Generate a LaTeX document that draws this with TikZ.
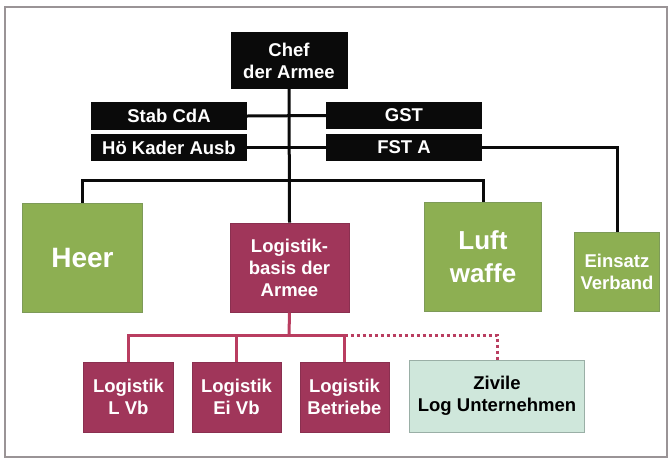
\documentclass[tikz,border=0pt]{standalone}
\usepackage{fontspec}
\setmainfont{Liberation Sans}
\definecolor{blk}{HTML}{0A0A0A}
\definecolor{grnf}{HTML}{8DAF52}
\definecolor{grnd}{HTML}{7D9A58}
\definecolor{marf}{HTML}{A0365A}
\definecolor{mard}{HTML}{8A3050}
\definecolor{redl}{HTML}{B93D60}
\definecolor{civf}{HTML}{CFE7DB}
\definecolor{civd}{HTML}{9AAFA6}
\definecolor{frm}{HTML}{9A9496}
\begin{document}
\begin{tikzpicture}[x=1pt,y=-1pt,
  box/.style={inner sep=0pt, align=center, font=\bfseries\fontsize{18.5}{22}\selectfont},
  blkbox/.style={box, fill=blk, text=white},
  grnbox/.style={box, fill=grnf, draw=grnd, line width=1pt, text=white},
  marbox/.style={box, fill=marf, draw=mard, line width=1pt, text=white},
  civbox/.style={box, fill=civf, draw=civd, line width=1pt, text=black},
  bl/.style={draw=blk, line width=3pt},
  rd/.style={draw=redl, line width=3pt},
  rddot/.style={draw=redl, line width=3pt, dash pattern=on 3pt off 3pt}]
\useasboundingbox (0,0) rectangle (671,461);
\draw[frm, line width=1.5pt] (5,7) rectangle (667,457);
\coordinate (hb) at (289,180);
\coordinate (rb) at (289,335);
% nodes
\node[blkbox, minimum width=117pt, minimum height=57pt] (chef) at (289,60.5) {Chef\\der Armee};
\node[blkbox, minimum width=156pt, minimum height=28pt] (stab) at (169,116) {Stab CdA};
\node[blkbox, minimum width=156pt, minimum height=27pt] (gst) at (404,115.5) {GST};
\node[blkbox, minimum width=156pt, minimum height=27pt] (hoe) at (169,147.5) {Hö Kader Ausb};
\node[blkbox, minimum width=156pt, minimum height=27pt] (fst) at (404,147.5) {FST A};
\node[grnbox, minimum width=120pt, minimum height=109pt, font=\bfseries\fontsize{28}{33}\selectfont] (heer) at (82.5,257.5) {Heer};
\node[marbox, minimum width=119pt, minimum height=89pt] (log) at (289.5,267.5) {Logistik-\\basis der\\Armee};
\node[grnbox, minimum width=116.5pt, minimum height=109pt, font=\bfseries\fontsize{26}{33}\selectfont] (luft) at (483,256.5) {Luft\\waffe};
\node[grnbox, minimum width=85pt, minimum height=79pt] (eins) at (617,271.5) {Einsatz\\Verband};
\node[marbox, minimum width=90pt, minimum height=70pt] (lvb) at (128.5,397) {Logistik\\L Vb};
\node[marbox, minimum width=89pt, minimum height=70pt] (eivb) at (236.5,397) {Logistik\\Ei Vb};
\node[marbox, minimum width=89pt, minimum height=70pt] (betr) at (344.5,397) {Logistik\\Betriebe};
\node[civbox, minimum width=175pt, minimum height=72pt] (ziv) at (497,396) {Zivile\\Log Unternehmen};
% connectors
\draw[bl] (chef.south) -- (log.north);
\draw[bl] (stab.east) -- (gst.west);
\draw[bl] (hoe.east) -- (fst.west);
\draw[bl] (heer.north) |- (hb) -| (luft.north);
\draw[bl] (fst.east) -| (eins.north);
\draw[rd] (log.south) -- (rb);
\draw[rd] (lvb.north) |- (rb);
\draw[rd] (eivb.north) -- (eivb.north |- rb);
\draw[rd] (betr.north) |- (rb);
\draw[rddot] (betr.north |- rb) -| (ziv.north);
\end{tikzpicture}
\end{document}
